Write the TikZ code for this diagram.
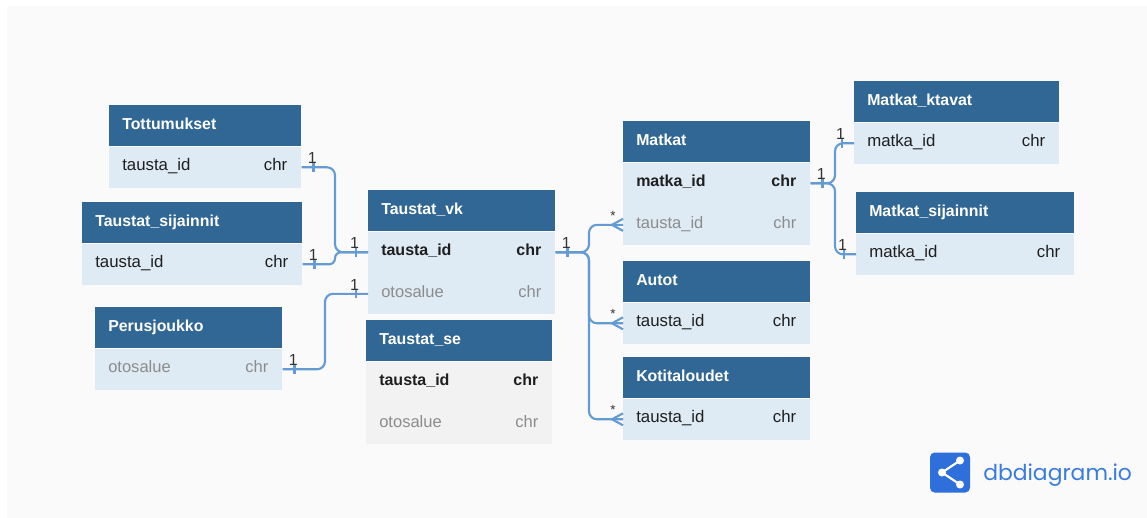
\documentclass[tikz,border=0pt]{standalone}
\usepackage{fontspec}
\setmainfont{Liberation Sans}
\newfontfamily\logofont{Poppins}
\usetikzlibrary{positioning}

\begin{document}
\begin{tikzpicture}[x=0.75pt, y=-0.75pt,
    kopf/.style={fill=dbKopf, minimum height=30.75pt, inner sep=0pt, anchor=north west},
    zeile/.style={minimum height=30.75pt, inner sep=0pt},
    titel/.style={anchor=west, inner sep=0pt, text=white, text height=0.75em, text depth=0.25em,
        font=\fontsize{11.9}{14}\selectfont\bfseries},
    feld/.style={anchor=west, inner sep=0pt, text height=0.75em, text depth=0.25em},
    typ/.style={feld, anchor=east},
    std/.style={text=dbText, font=\fontsize{12.6}{14}\selectfont},
    pk/.style={text=dbText, font=\fontsize{12}{14}\selectfont\bfseries},
    grau/.style={text=dbGrauText, font=\fontsize{12.4}{14}\selectfont},
    bez/.style={draw=dbLinie, line width=1.6pt, rounded corners=6pt},
    kard/.style={inner sep=0pt, text=dbZahl, font=\fontsize{12}{13}\selectfont}]
        % Farben
        \definecolor{dbKopf}{HTML}{316795}
        \definecolor{dbZeile}{HTML}{DEEBF5}
        \definecolor{dbGrau}{HTML}{F2F2F2}
        \definecolor{dbText}{HTML}{1F1F1F}
        \definecolor{dbGrauText}{HTML}{8C8C8C}
        \definecolor{dbLinie}{HTML}{649BD2}
        \definecolor{dbZahl}{HTML}{333333}
        \definecolor{dbHintergrund}{HTML}{FAFAFA}
        \definecolor{dbLogo}{HTML}{2F6FDB}
        \definecolor{dbLogoText}{HTML}{3A7BE0}

        % Hintergrund
        \useasboundingbox (0,0) rectangle (1147,518);
        \fill[dbHintergrund] (7,6) rectangle (1147,518);

        % Tabellenkoepfe: Name / Titel / x / y / Breite
        \foreach \n/\t/\x/\y/\w in {
            tot/Tottumukset/109/105/192,
            tsij/Taustat\_sijainnit/82/202/220,
            per/Perusjoukko/95/307/187,
            vk/Taustat\_vk/368/190/187,
            se/Taustat\_se/366/320/186,
            mat/Matkat/623/121/187,
            aut/Autot/623/261/187,
            kot/Kotitaloudet/623/357/187,
            mkt/Matkat\_ktavat/854/81/205,
            msij/Matkat\_sijainnit/856/192/218}
        {
            \node[kopf, minimum width=\w*0.75pt] (\n) at (\x,\y) {};
            \node[titel] (\n-t) at ([xshift=9.75pt]\n.west) {\t};
        }

        % Zeilen: Name / unter / Feld / Stil / Fuellung / Breite
        \foreach \z/\o/\f/\s/\c/\w in {
            tot-1/tot/tausta\_id/std/dbZeile/192,
            tsij-1/tsij/tausta\_id/std/dbZeile/220,
            per-1/per/otosalue/grau/dbZeile/187,
            vk-1/vk/tausta\_id/pk/dbZeile/187,
            vk-2/vk-1/otosalue/grau/dbZeile/187,
            se-1/se/tausta\_id/pk/dbGrau/186,
            se-2/se-1/otosalue/grau/dbGrau/186,
            mat-1/mat/matka\_id/pk/dbZeile/187,
            mat-2/mat-1/tausta\_id/grau/dbZeile/187,
            aut-1/aut/tausta\_id/std/dbZeile/187,
            kot-1/kot/tausta\_id/std/dbZeile/187,
            mkt-1/mkt/matka\_id/std/dbZeile/205,
            msij-1/msij/matka\_id/std/dbZeile/218}
        {
            \node[zeile, fill=\c, minimum width=\w*0.75pt, below=0pt of \o] (\z) {};
            \node[feld, \s] (\z-f) at ([xshift=9.75pt]\z.west) {\f};
            \node[typ, \s] (\z-d) at ([xshift=-10.5pt]\z.east) {chr};
        }

        % Knickstellen
        \coordinate (k1) at (335,0);
        \coordinate (k2) at (325,0);
        \coordinate (k3) at (589,0);
        \coordinate (k4) at (835,0);

        % Beziehungen
        \draw[bez] (tot-1.east) -| (k1 |- vk-1.west) -- (vk-1.west);
        \draw[bez, rounded corners=4.4pt] (tsij-1.east) -| (k1 |- vk-1.west) -- (vk-1.west);
        \draw[bez] (per-1.east) -| (k2 |- vk-2.west) -- (vk-2.west);
        \draw[bez] (vk-1.east) -| (k3 |- mat-2.west) -- (mat-2.west);
        \draw[bez] (vk-1.east) -| (k3 |- aut-1.west) -- (aut-1.west);
        \draw[bez] (vk-1.east) -| (k3 |- kot-1.west) -- (kot-1.west);
        \draw[bez] (mat-1.east) -| (k4 |- mkt-1.west) -- (mkt-1.west);
        \draw[bez] (mat-1.east) -| (k4 |- msij-1.west) -- (msij-1.west);

        % Kardinalitaet 1
        \foreach \a/\d [count=\i] in {tot-1.east/1, tsij-1.east/1, per-1.east/1,
            vk-1.west/-1, vk-2.west/-1, vk-1.east/1, mat-1.east/1,
            mkt-1.west/-1, msij-1.west/-1}
            \draw[bez] ([xshift=\d*9pt]\a) ++(0,4.5) -- ++(0,-9)
                node[kard, anchor=south, xshift=-1pt, yshift=-1.5pt] (eins\i) {1};

        % Kardinalitaet *
        \foreach \a [count=\i] in {mat-2.west, aut-1.west, kot-1.west}
        {
            \draw[bez, rounded corners=0pt] ([yshift=4.5pt]\a) -- ([xshift=-8.25pt]\a) -- ([yshift=-4.5pt]\a);
            \node[kard, font=\fontsize{10}{12}\selectfont] (viele\i) at ([xshift=-7.5pt, yshift=7pt]\a) {*};
        }

        % Logo
        \node[fill=dbLogo, rounded corners=3.5pt, minimum size=30pt, inner sep=0pt] (logoicon) at (950,472.5) {};
        \draw[white, line width=1.6pt] ([xshift=7.5pt, yshift=9pt]logoicon.center)
            -- ([xshift=-6pt]logoicon.center) -- ([xshift=7.5pt, yshift=-9pt]logoicon.center);
        \foreach \p in {{-6pt,0pt}, {7.5pt,9pt}, {7.5pt,-9pt}}
            \fill[white] ([shift={(\p)}]logoicon.center) circle (3pt);
        \node[anchor=base west, inner sep=0pt, text=dbLogoText, font=\logofont\fontsize{16.4}{20}\selectfont]
            (logo) at (983,480) {dbdiagram.io};
\end{tikzpicture}
\end{document}
